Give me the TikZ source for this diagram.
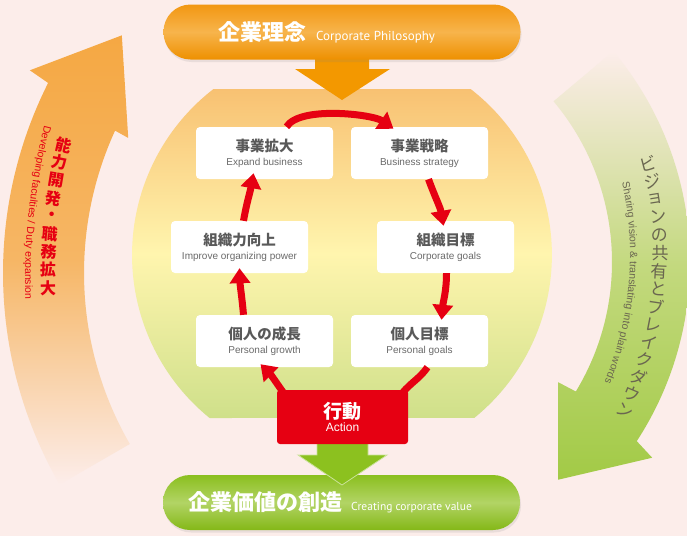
\documentclass[tikz,border=0pt]{standalone}
\usepackage{fontspec}
\usepackage{tikz}
\usetikzlibrary{arrows.meta,shadows,decorations.text}
\setmainfont{Liberation Sans}
\newfontfamily\jpfont{Noto Sans CJK JP}
\newfontfamily\pillfont{PT Sans}

\definecolor{bgpink}{HTML}{FCEDEA}
\definecolor{actred}{HTML}{E60012}
\definecolor{philorange}{HTML}{F39800}
\definecolor{valuegreen}{HTML}{8CC11F}
\definecolor{boxgray}{HTML}{595959}
\definecolor{subgray}{HTML}{6A6A6A}
\definecolor{visgray}{HTML}{6A6650}
\definecolor{bandorange}{HTML}{F5A843}
\definecolor{bandorangemid}{HTML}{F6B665}
\definecolor{bandgreen}{HTML}{A2CA46}
\definecolor{bandgreenmid}{HTML}{C3D97E}
\definecolor{fieldtop}{HTML}{F8C172}
\definecolor{fieldmid}{HTML}{FFF5AE}
\definecolor{fieldbot}{HTML}{CFE08A}
\definecolor{philtop}{HTML}{F29712}
\definecolor{philmid}{HTML}{F7B44C}
\definecolor{philbot}{HTML}{EE9000}
\definecolor{valuetop}{HTML}{8BBF1F}
\definecolor{valuemid}{HTML}{B2D465}
\definecolor{valuebot}{HTML}{84B817}

\newcommand{\cardjp}{\jpfont\bfseries\fontsize{14.5}{16}\selectfont\color{boxgray}}
\newcommand{\cardsub}{\fontsize{10}{11}\selectfont\color{subgray}}
\newcommand{\leftcapfont}{\fontsize{10.5}{11}\selectfont\color{actred}}
\newcommand{\rightcapfont}{\fontsize{10.5}{11}\selectfont\color{visgray}}

\begin{document}
\begin{tikzpicture}[x=1pt, y=1pt,
  card/.style={fill=white, rounded corners=4pt, minimum width=137pt, minimum height=52pt,
    inner sep=0pt, align=center, font=\fontsize{10}{14}\selectfont},
  actbox/.style={fill=actred, text=white, rounded corners=3pt, minimum width=131pt,
    minimum height=54pt, inner sep=0pt, align=center, font=\fontsize{12}{12.5}\selectfont},
  cyc/.style={draw=actred, line width=7pt, -{Triangle[length=15pt,width=20pt]}},
  cycline/.style={draw=actred, line width=7pt},
  pill/.style={rounded corners=27pt, minimum width=357pt, minimum height=55pt, inner sep=0pt,
    drop shadow={opacity=0.15, shadow xshift=1pt, shadow yshift=-2.5pt}},
  pilltext/.style={text=white, inner sep=0pt, anchor=base west},
  leftjp/.style={text=actred, inner sep=0pt, font=\jpfont\bfseries\fontsize{16}{16}\selectfont},
  rightjp/.style={text=visgray, inner sep=0pt, font=\jpfont\fontsize{17}{17}\selectfont}]

% Page
\fill[bgpink] (0,0) rectangle (687,-536);
\useasboundingbox (0,0) rectangle (687,-536);
\clip (0,0) rectangle (687,-536);

% Left band
\begin{scope}[shift={(426,-273)}]
\shade[top color=bandorange, bottom color=bgpink, middle color=bandorangemid]
  (210:423) arc[start angle=210, end angle=153.3, radius=423]
  -- (152.9:445) -- (142:386) -- (155.6:327) -- (155.4:342)
  arc[start angle=155.4, end angle=210, radius=342] -- cycle;
\end{scope}

% Right band
\begin{scope}[shift={(362,-262)}]
\shade[top color=bgpink, bottom color=bandgreen, middle color=bandgreenmid]
  (40:328) arc[start angle=40, end angle=-33.1, radius=328]
  -- (-34:350) -- (-48:293) -- (-31.5:230) -- (-31.2:250)
  arc[start angle=-31.2, end angle=40, radius=250] -- cycle;
\end{scope}

% Band captions
\foreach \kana [count=\i from 0, evaluate=\i as \ang using 167+1.72*\i] in {能,力,開,発,・,職,務,拡,大}
  \node[leftjp, rotate=\ang-180] (lj\i) at ([shift={(648,-280)}]\ang:600) {\kana};
\path[decorate, decoration={text along path, text align=center,
    text={|\leftcapfont|Developing faculties / Duty expansion}}]
  ([shift={(648,-280)}]163.7:623) arc[start angle=163.7, end angle=183.7, radius=623];

\foreach \kana [count=\i from 0, evaluate=\i as \ang using 14.7-2.879*\i] in {ビ,ジ,ョ,ン,の,共,有,と,ブ,レ,イ,ク,ダ,ウ,ン}
  \node[rightjp, rotate=\ang] (rj\i) at ([shift={(300,-255)}]\ang:360) {\kana};
\path[decorate, decoration={text along path, text align=center,
    text={|\rightcapfont|Sharing vision {\&} translating into plain words}}]
  ([shift={(300,-255)}]20:330) arc[start angle=20, end angle=-30, radius=330];

% Centre field
\shade[top color=fieldtop, bottom color=fieldbot, middle color=fieldmid]
  (213.4,-89) -- (470.6,-89) arc[start angle=52.2, end angle=-50.9, radius=210]
  -- (209.6,-418) arc[start angle=230.9, end angle=127.8, radius=210] -- cycle;

% Philosophy
\fill[philorange] (315,-52) -- (369,-52) -- (369,-69) -- (390,-69) -- (342,-100)
  -- (295,-69) -- (315,-69) -- cycle;
\node[pill, top color=philtop, bottom color=philbot, middle color=philmid] (philosophy) at (342,-32) {};
\node[pilltext] (philtxt) at (218,-40) {{\jpfont\bfseries\fontsize{22}{22}\selectfont 企業理念}\hspace{10pt}{\pillfont\fontsize{13}{13}\selectfont Corporate Philosophy}};

% Cycle
\node[card] (expand) at (264.5,-153) {{\cardjp 事業拡大}\\{\cardsub Expand business}};
\node[card] (strategy) at (419.5,-153) {{\cardjp 事業戦略}\\{\cardsub Business strategy}};
\node[card] (orgpower) at (239.5,-247) {{\cardjp 組織力向上}\\{\cardsub Improve organizing power}};
\node[card] (orggoals) at (445.5,-247) {{\cardjp 組織目標}\\{\cardsub Corporate goals}};
\node[card] (growth) at (264.5,-341) {{\cardjp 個人の成長}\\{\cardsub Personal growth}};
\node[card] (pgoals) at (419.5,-341) {{\cardjp 個人目標}\\{\cardsub Personal goals}};

% Value
\node[pill, top color=valuetop, bottom color=valuebot, middle color=valuemid] (value) at (341.5,-502.5) {};
\node[pilltext] (valuetxt) at (188,-510) {{\jpfont\bfseries\fontsize{22}{22}\selectfont 企業価値の創造}\hspace{9pt}{\pillfont\fontsize{11.5}{12}\selectfont Creating corporate value}};
\filldraw[fill=valuegreen, draw=valuegreen!45!white, line width=0.8pt]
  (317,-440) -- (368,-440) -- (368,-455) -- (387,-455) -- (342,-485)
  -- (298,-455) -- (317,-455) -- cycle;

% Action
\node[actbox] (action) at (342.5,-417) {{\jpfont\bfseries\fontsize{19}{19}\selectfont 行動}\\Action};

\draw[cyc] ([xshift=22pt]expand.north) to[out=58,in=145,looseness=0.6] ([xshift=-26pt,yshift=-2pt]strategy.north);
\draw[cyc] ([xshift=9pt]strategy.south) to[out=-70,in=100] ([xshift=-2pt,yshift=-5pt]orggoals.north);
\draw[cyc] ([xshift=1pt]orggoals.south) to[out=-90,in=85] ([xshift=22pt,yshift=-5pt]pgoals.north);
\draw[cycline] ([xshift=8pt]pgoals.south) to[out=-125,in=50] ([xshift=60pt,yshift=-3pt]action.north);
\draw[cyc] ([xshift=-59pt,yshift=-3pt]action.north) to[out=125,in=-45] ([xshift=-4pt,yshift=3pt]growth.south);
\draw[cyc] ([xshift=-21pt]growth.north) to[out=95,in=-88] ([yshift=5pt]orgpower.south);
\draw[cyc] ([xshift=4pt]orgpower.north) to[out=80,in=-100] ([xshift=-11pt,yshift=6pt]expand.south);
\end{tikzpicture}
\end{document}
